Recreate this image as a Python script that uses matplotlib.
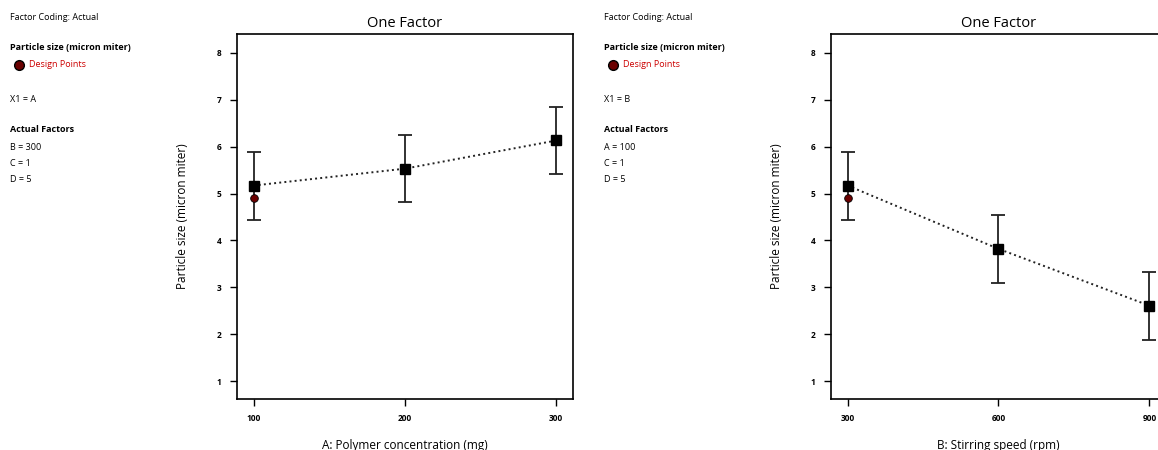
import matplotlib.pyplot as plt

plt.rcParams['font.family'] = ['Open Sans', 'DejaVu Sans']

W, H = 1158, 450

# Panel A: polymer concentration
a_levels = [100, 200, 300]
a_mean = [5.17, 5.53, 6.13]
a_low = [4.44, 4.81, 5.42]
a_high = [5.89, 6.25, 6.85]
a_design_x = [100]
a_design_y = [4.91]

# Panel B: stirring speed
b_levels = [300, 600, 900]
b_mean = [5.17, 3.82, 2.61]
b_low = [4.44, 3.09, 1.88]
b_high = [5.89, 4.54, 3.33]
b_design_x = [300]
b_design_y = [4.91]

yticks = [1, 2, 3, 4, 5, 6, 7, 8]


def px(x, y):
    return x / W, 1 - y / H


def side_notes(fig, x0, x1_label, factors):
    fig.text(*px(x0, 17), "Factor Coding: Actual", fontsize=6.5, va='center')
    fig.text(*px(x0, 48), "Particle size (micron miter)", fontsize=6.5, fontweight='bold', va='center')
    fig.lines.append(plt.Line2D([(x0 + 9) / W], [1 - 65 / H], marker='o', markersize=7,
                                markerfacecolor='#6b0000', markeredgecolor='black',
                                transform=fig.transFigure, figure=fig))
    fig.text(*px(x0 + 19, 65), "Design Points", fontsize=6.5, color='#cc0000', va='center')
    fig.text(*px(x0, 99), x1_label, fontsize=6.5, va='center')
    fig.text(*px(x0, 130), "Actual Factors", fontsize=6.5, fontweight='bold', va='center')
    for i, f in enumerate(factors):
        fig.text(*px(x0, 147 + 16 * i), f, fontsize=6.5, va='center')


def one_factor(ax, levels, mean, low, high, dx, dy, xlim, xlabel):
    err = [[m - l for m, l in zip(mean, low)], [h - m for m, h in zip(mean, high)]]
    ax.errorbar(levels, mean, yerr=err, fmt='none', ecolor='#222222', elinewidth=1.3,
                capsize=5, capthick=1.3, zorder=2)
    ax.plot(levels, mean, linestyle=':', color='#222222', linewidth=1.4, zorder=3)
    ax.plot(levels, mean, linestyle='none', marker='s', markersize=7, color='black', zorder=4)
    ax.plot(dx, dy, linestyle='none', marker='o', markersize=5.5,
            markerfacecolor='#6b0000', markeredgecolor='black', markeredgewidth=0.6, zorder=5)
    ax.set_xlim(*xlim)
    ax.set_ylim(0.62, 8.4)
    ax.set_xticks(levels)
    ax.set_yticks(yticks)
    ax.tick_params(direction='out', length=5, width=1, labelsize=6, pad=6)
    for lbl in ax.get_xticklabels() + ax.get_yticklabels():
        lbl.set_fontweight('bold')
    for s in ax.spines.values():
        s.set_linewidth(1.2)
    ax.set_title("One Factor", fontsize=10.5, pad=5)
    ax.set_xlabel(xlabel, fontsize=8.5, labelpad=11)
    ax.set_ylabel("Particle size (micron miter)", fontsize=8.5, labelpad=20)


fig = plt.figure(figsize=(W / 100, H / 100), dpi=100)

ax1 = fig.add_axes([237 / W, 1 - 399 / H, 336 / W, 365 / H])
one_factor(ax1, a_levels, a_mean, a_low, a_high, a_design_x, a_design_y,
           (89, 311), "A: Polymer concentration (mg)")

# right panel runs past the figure edge, as in the source image
ax2 = fig.add_axes([831 / W, 1 - 399 / H, 335 / W, 365 / H])
one_factor(ax2, b_levels, b_mean, b_low, b_high, b_design_x, b_design_y,
           (267, 933), "B: Stirring speed (rpm)")

side_notes(fig, 10, "X1 = A", ["B = 300", "C = 1", "D = 5"])
side_notes(fig, 604, "X1 = B", ["A = 100", "C = 1", "D = 5"])

fig.savefig("out.png", dpi=100)
